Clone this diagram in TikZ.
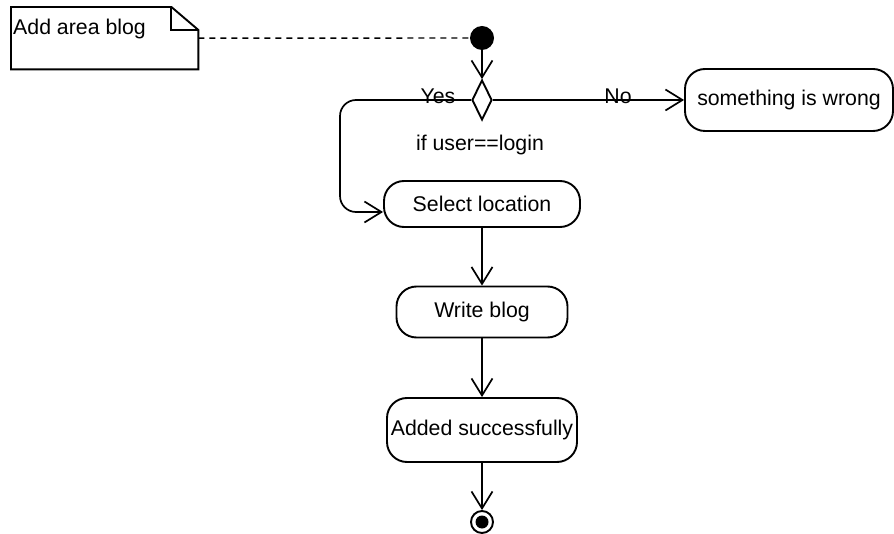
\documentclass[tikz,border=0pt]{standalone}
\usepackage{fontspec}
\setmainfont{Liberation Sans}
\usetikzlibrary{arrows.meta,shapes.geometric}
\begin{document}
\begin{tikzpicture}[x=1pt,y=-1pt,
  every node/.style={font=\fontsize{21.3}{25}\selectfont, inner sep=0pt},
  act/.style={draw, line width=1.9pt, rounded corners=20pt},
  conn/.style={line width=1.7pt, -{Straight Barb[length=17pt,width=21pt,line width=1.7pt]}}]
\useasboundingbox (0,0) rectangle (894,534);
% note
\node (note) [minimum width=187pt, minimum height=62pt, anchor=north west] at (11,7) {};
\draw[line width=1.9pt] (note.north west) -- ([xshift=-27pt]note.north east) -- ([yshift=-23pt]note.north east) -- (note.south east) -- (note.south west) -- cycle;
\draw[line width=1.9pt] ([xshift=-27pt]note.north east) -- ([xshift=-27pt,yshift=-23pt]note.north east) -- ([yshift=-23pt]note.north east);
\node (notetext) [anchor=north west] at (13,19) {Add area blog};
% start
\node (start) [circle, fill=black, minimum size=24pt] at (482,38) {};
\draw[line width=1.4pt, dash pattern=on 6pt off 5pt] (note.east) -- (start);
% decision
\node (dec) [diamond, draw, line width=1.9pt, minimum width=20pt, minimum height=40pt, aspect=0.5] at (482,100) {};
\draw[conn] (start) -- (dec);
\node (yes) at (438,96) {Yes};
\node (no) at (618,96) {No};
\node (cond) at (480,145) {if user==login};
% activities
\node (wrong) [act, minimum width=208pt, minimum height=62pt] at (789,100) {something is wrong};
\node (sel) [act, minimum width=196pt, minimum height=46pt] at (482,204) {Select location};
\node (write) [act, minimum width=171pt, minimum height=51pt] at (482,312) {Write blog};
\node (added) [act, minimum width=190pt, minimum height=64pt] at (482,430) {Added successfully};
% end
\node (end) [circle, draw, line width=1.9pt, minimum size=22pt] at (482,522) {};
\node (endin) [circle, fill=black, minimum size=13pt] at (482,522) {};
% connectors
\draw[conn] (dec.east) -- (wrong.west);
\draw[conn, rounded corners=16pt] (dec.west) -- (340,100) -- (340,212) -- ([yshift=-8pt]sel.west);
\draw[conn] (sel) -- (write);
\draw[conn] (write) -- (added);
\draw[conn] (added) -- (end);
\end{tikzpicture}
\end{document}
